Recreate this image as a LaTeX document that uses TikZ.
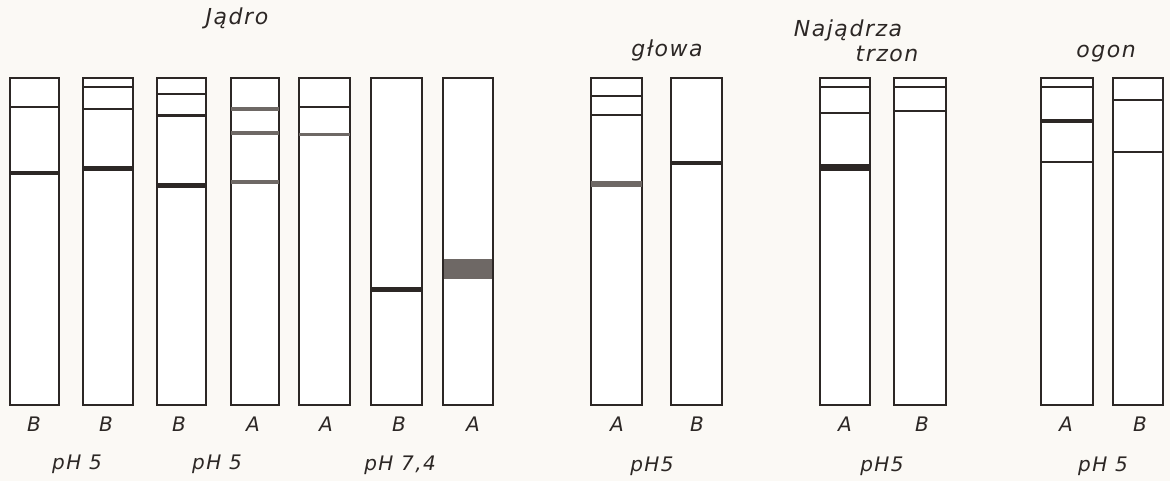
\documentclass[tikz,border=0pt]{standalone}
\usepackage{fontspec}
\setmainfont{DejaVu Sans}
\newfontfamily\hand[LetterSpace=7]{DejaVu Sans}
\begin{document}
\begin{tikzpicture}[x=1pt,y=-1pt,
  ink/.style={draw=inkc,line width=1.9pt},
  lbl/.style={text=inkc,font=\hand\itshape\fontsize{20}{20}\selectfont,inner sep=0pt},
  ttl/.style={text=inkc,font=\hand\itshape\fontsize{22}{22}\selectfont,inner sep=0pt}]
\definecolor{inkc}{HTML}{2C2725}
\definecolor{bandg}{HTML}{6E6865}
\definecolor{bg}{HTML}{FBF9F5}
\fill[bg] (0,0) rectangle (1170,481);
\useasboundingbox (0,0) rectangle (1170,481);
\newcommand\gtube[2]{\draw[ink,fill=white] (#1,78) rectangle (#2,405);}
\newcommand\thinb[3]{\draw[draw=inkc,line width=1.8pt] (#1,#3) -- (#2,#3);}
\newcommand\darkb[4]{\draw[draw=inkc,line width=#4pt] (#1,#3) -- (#2,#3);}
\newcommand\greyb[4]{\draw[draw=bandg,line width=#4pt] (#1,#3) -- (#2,#3);}
% Jadro
\gtube{10}{59}\thinb{10}{59}{107}\darkb{10}{59}{173}{4}
\gtube{83}{133}\thinb{83}{133}{87}\thinb{83}{133}{109}\darkb{83}{133}{169}{5}
\gtube{157}{206}\thinb{157}{206}{94}\darkb{157}{206}{116}{3}\darkb{157}{206}{186}{5}
\gtube{231}{279}\greyb{231}{279}{109}{4}\greyb{231}{279}{133}{3.5}\greyb{231}{279}{182}{3.5}
\gtube{299}{350}\thinb{299}{350}{107}\greyb{299}{350}{135}{3}
\gtube{371}{422}\darkb{371}{422}{289}{5}
\gtube{443}{493}\fill[bandg] (444,259) rectangle (492,279);
% glowa
\gtube{591}{642}\thinb{591}{642}{96}\thinb{591}{642}{115}\greyb{591}{642}{184}{6}
\gtube{671}{722}\darkb{671}{722}{163}{4}
% trzon
\gtube{820}{870}\thinb{820}{870}{87}\thinb{820}{870}{113}\darkb{820}{870}{168}{7}
\gtube{894}{946}\thinb{894}{946}{87}\thinb{894}{946}{111}
% ogon
\gtube{1041}{1093}\thinb{1041}{1093}{87}\darkb{1041}{1093}{121}{4}\darkb{1041}{1093}{162}{2.5}
\gtube{1113}{1163}\thinb{1113}{1163}{100}\thinb{1113}{1163}{152}
% titles
\node[ttl] (jadro) at (237,18) {Jądro};
\node[ttl] (glowa) at (667,50) {głowa};
\node[ttl] (najadrza) at (848,30) {Najądrza};
\node[ttl] (trzon) at (887,54) {trzon};
\node[ttl] (ogon) at (1106,54) {ogon};
% letters
\node[lbl] (l1) at (34,424) {B};
\node[lbl] (l2) at (106,424) {B};
\node[lbl] (l3) at (179,424) {B};
\node[lbl] (l4) at (253,424) {A};
\node[lbl] (l5) at (326,424) {A};
\node[lbl] (l6) at (399,424) {B};
\node[lbl] (l7) at (473,424) {A};
\node[lbl] (l8) at (617,424) {A};
\node[lbl] (l9) at (697,424) {B};
\node[lbl] (l10) at (845,424) {A};
\node[lbl] (l11) at (922,424) {B};
\node[lbl] (l12) at (1066,424) {A};
\node[lbl] (l13) at (1140,424) {B};
% pH
\node[lbl] (p1) at (77,464) {pH 5};
\node[lbl] (p2) at (217,464) {pH 5};
\node[lbl] (p3) at (400,465) {pH 7,4};
\node[lbl] (p4) at (652,466) {pH5};
\node[lbl] (p5) at (882,466) {pH5};
\node[lbl] (p6) at (1103,466) {pH 5};
\end{tikzpicture}
\end{document}
